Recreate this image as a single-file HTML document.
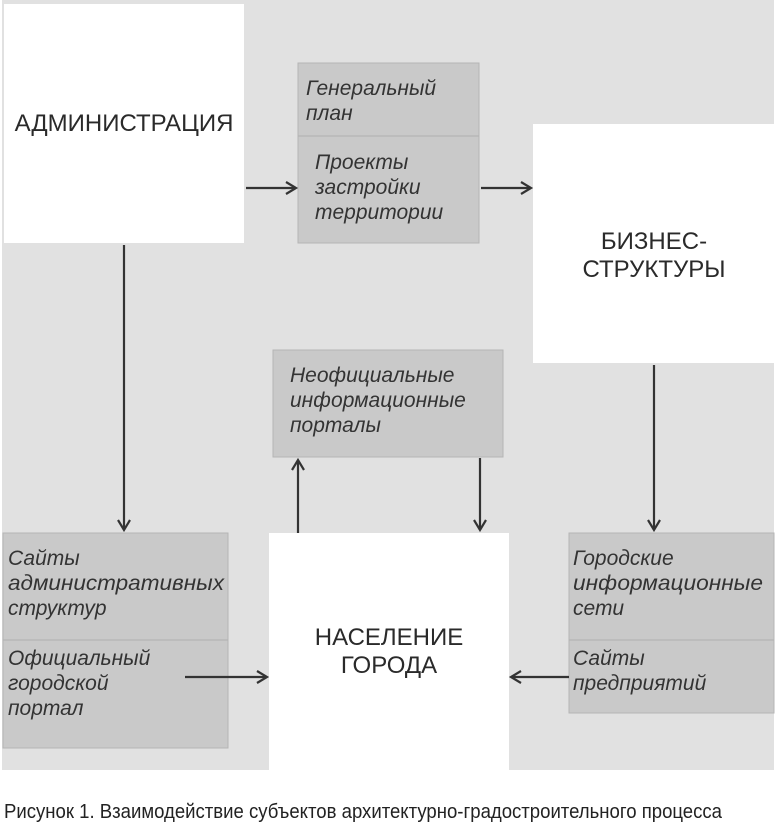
<!DOCTYPE html>
<html><head><meta charset="utf-8"><style>
body{margin:0;background:#fff;width:775px;height:833px;overflow:hidden}
svg text{font-family:"Liberation Sans",sans-serif;fill:#2a2a2a}
.i{font-style:italic;font-size:21px;fill:#333}
.c{font-size:24px;text-anchor:middle}
</style></head><body>
<svg width="775" height="833" xmlns="http://www.w3.org/2000/svg">
<defs><marker id="a" markerWidth="14" markerHeight="14" refX="11" refY="7" orient="auto" markerUnits="userSpaceOnUse"><path d="M1,1 L11,7 L1,13" fill="none" stroke="#333" stroke-width="2.2"/></marker></defs>
<rect x="2" y="0" width="772" height="770" fill="#e1e1e1"/>
<rect x="4" y="4" width="240" height="239" fill="#fff"/>
<text class="c" x="124" y="131">АДМИНИСТРАЦИЯ</text>
<rect x="298" y="63" width="181" height="180" fill="#c9c9c9" stroke="#b5b5b5"/>
<line x1="298" y1="136" x2="479" y2="136" stroke="#b0b0b0"/>
<text class="i" x="306" y="95">Генеральный</text><text class="i" x="306" y="120">план</text>
<text class="i" x="315" y="169">Проекты</text><text class="i" x="315" y="194">застройки</text><text class="i" x="315" y="219">территории</text>
<rect x="533" y="124" width="241" height="239" fill="#fff"/>
<text class="c" x="654" y="249">БИЗНЕС-</text><text class="c" x="654" y="277">СТРУКТУРЫ</text>
<rect x="273" y="350" width="230" height="107" fill="#c9c9c9" stroke="#b5b5b5"/>
<text class="i" x="290" y="382">Неофициальные</text><text class="i" x="290" y="407">информационные</text><text class="i" x="290" y="432">порталы</text>
<rect x="3" y="533" width="225" height="215" fill="#c9c9c9" stroke="#b5b5b5"/>
<line x1="3" y1="640" x2="228" y2="640" stroke="#b0b0b0"/>
<text class="i" x="8" y="565">Сайты</text><text class="i" x="8" y="590" textLength="216" lengthAdjust="spacingAndGlyphs">административных</text><text class="i" x="8" y="615">структур</text>
<text class="i" x="8" y="665">Официальный</text><text class="i" x="8" y="690">городской</text><text class="i" x="8" y="715">портал</text>
<rect x="269" y="533" width="240" height="240" fill="#fff"/>
<text class="c" x="389" y="645">НАСЕЛЕНИЕ</text><text class="c" x="389" y="673">ГОРОДА</text>
<rect x="569" y="533" width="205" height="180" fill="#c9c9c9" stroke="#b5b5b5"/>
<line x1="569" y1="640" x2="774" y2="640" stroke="#b0b0b0"/>
<text class="i" x="573" y="565">Городские</text><text class="i" x="573" y="590" textLength="190" lengthAdjust="spacingAndGlyphs">информационные</text><text class="i" x="573" y="615">сети</text>
<text class="i" x="573" y="665">Сайты</text><text class="i" x="573" y="690">предприятий</text>
<g stroke="#333" stroke-width="2.2" fill="none">
<line x1="246" y1="188" x2="296" y2="188" marker-end="url(#a)"/>
<line x1="481" y1="188" x2="531" y2="188" marker-end="url(#a)"/>
<line x1="124" y1="245" x2="124" y2="530" marker-end="url(#a)"/>
<line x1="654" y1="365" x2="654" y2="530" marker-end="url(#a)"/>
<line x1="298" y1="533" x2="298" y2="460" marker-end="url(#a)"/>
<line x1="480" y1="458" x2="480" y2="530" marker-end="url(#a)"/>
<line x1="185" y1="677" x2="267" y2="677" marker-end="url(#a)"/>
<line x1="569" y1="677" x2="511" y2="677" marker-end="url(#a)"/>
</g>
<text x="4" y="818" style="font-size:20px;fill:#222" textLength="718" lengthAdjust="spacingAndGlyphs">Рисунок 1. Взаимодействие субъектов архитектурно-градостроительного процесса</text>
</svg>
</body></html>
